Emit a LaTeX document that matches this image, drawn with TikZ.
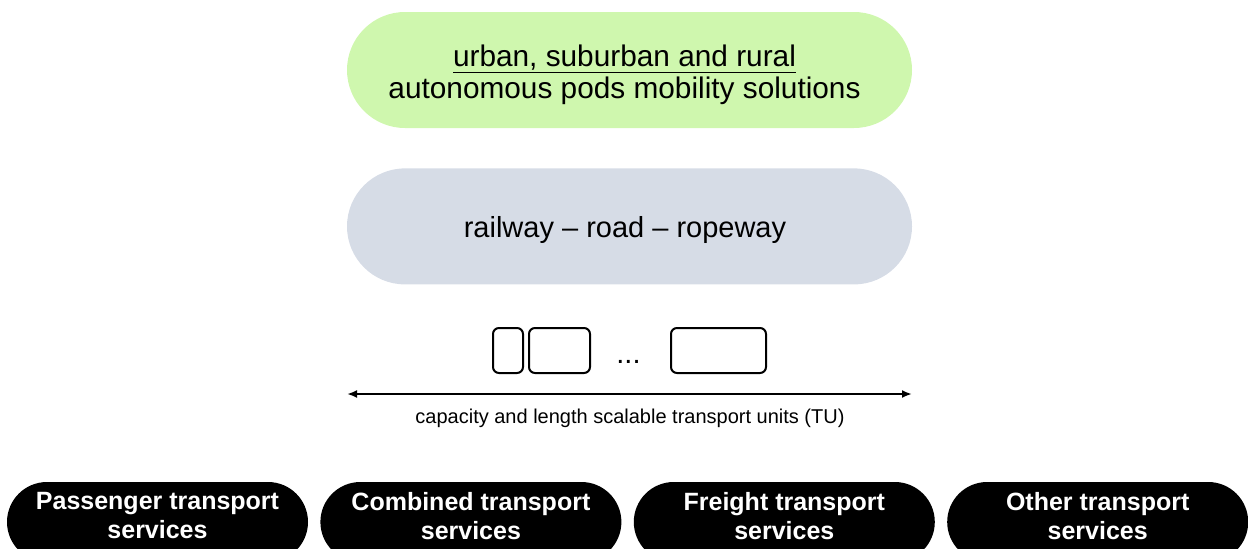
\documentclass[tikz,border=0pt]{standalone}
\usepackage{fontspec}
\setmainfont{Liberation Sans}
\usepackage{xcolor}
\usetikzlibrary{arrows.meta, positioning}

\definecolor{podgreen}{RGB}{207,247,174}
\definecolor{modegray}{RGB}{214,220,230}

\tikzset{
  pill/.style={rectangle, rounded corners=58pt, minimum width=565pt, minimum height=116pt, inner sep=0pt},
  pilltext/.style={align=center, font=\fontsize{29}{31.5}\selectfont},
  tubox/.style={draw, line width=2pt, rounded corners=6pt, minimum height=45pt, inner sep=0pt},
  service/.style={fill=black, rounded corners=40pt, minimum width=301pt, minimum height=80pt, inner sep=0pt},
  servicetext/.style={text=white, align=center, font=\bfseries\fontsize{25}{29}\selectfont},
}

\begin{document}
\begin{tikzpicture}[x=1pt, y=-1pt]
    \useasboundingbox (0,0) rectangle (1248,549);

    % Mobility layers
    \node[pill, fill=podgreen] (pods) at (629.5,70) {};
    \node[pill, fill=modegray, below=40pt of pods] (modes) {};
    \node[pilltext, font=\fontsize{29.8}{31.5}\selectfont] (pods-txt) at ([xshift=-5pt, yshift=-5pt]pods)
        {\underline{urban, suburban and rural}\\autonomous pods mobility solutions};
    \node[pilltext] (modes-txt) at ([xshift=-4.5pt, yshift=-4pt]modes) {railway -- road -- ropeway};

    % Transport units
    \node[tubox, minimum width=30pt] (tu1) at (508,350.5) {};
    \node[tubox, minimum width=61pt, right=4pt of tu1] (tu2) {};
    \node[inner sep=0pt, font=\fontsize{29}{31}\selectfont] (dots) at (628.5,362) {...};
    \node[tubox, minimum width=95pt] (tu3) at (718.5,350.5) {};

    % Scale arrow
    \coordinate (scl) at (347,394);
    \coordinate (scr) at (912,394);
    \draw[{Latex[length=10pt,width=8pt]}-{Latex[length=10pt,width=8pt]}, line width=2pt] (scl) -- (scr);
    \node[font=\fontsize{20}{24}\selectfont] (tulabel) at (630,418) {capacity and length scalable transport units (TU)};

    % Services
    \node[service]                      (pass)  at (157.5,522) {};
    \node[service, right=12pt of pass]  (comb)  {};
    \node[service, right=12pt of comb]  (frei)  {};
    \node[service, right=12pt of frei]  (other) {};
    \foreach \n/\t in {pass/Passenger transport, comb/Combined transport, frei/Freight transport, other/Other transport}
        \node[servicetext] (\n-txt) at ([yshift=6pt]\n) {\t\\services};
\end{tikzpicture}
\end{document}
